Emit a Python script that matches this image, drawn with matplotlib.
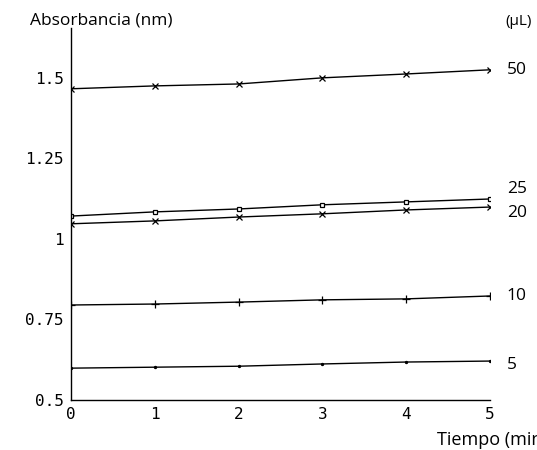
import matplotlib

matplotlib.use("Agg")
import matplotlib.pyplot as plt

tiempo = [0, 1, 2, 3, 4, 5]
volumes = ["50", "25", "20", "10", "5"]
abs_50 = [1.466, 1.475, 1.481, 1.500, 1.512, 1.525]
abs_25 = [1.071, 1.084, 1.093, 1.106, 1.115, 1.124]
abs_20 = [1.047, 1.056, 1.068, 1.078, 1.090, 1.099]
abs_10 = [0.795, 0.798, 0.804, 0.811, 0.814, 0.823]
abs_5 = [0.599, 0.602, 0.605, 0.612, 0.618, 0.621]
y_ticks = [0.5, 0.75, 1, 1.25, 1.5]
y_labels = ["0.5", "0.75", "1", "1.25", "1.5"]

series = [abs_50, abs_25, abs_20, abs_10, abs_5]
markers = ["x", "s", "x", "+", "."]
sizes = [5, 3, 5, 6, 3]
# vertical nudge of the end labels (points), so 25/20 don't collide
nudges = [0, 7, -4, 0, -3]

fig = plt.figure(figsize=(5.37, 4.5), dpi=100)
ax = fig.add_axes([0.132, 0.111, 0.7805, 0.827])

for vals, m, s, lab, dy in zip(series, markers, sizes, volumes, nudges):
    ax.plot(tiempo, vals, color="black", lw=1.0, marker=m, ms=s,
            mfc="white" if m == "s" else "black", mec="black", mew=0.9)
    ax.annotate(lab, xy=(5, vals[-1]), xytext=(12, dy), textcoords="offset points",
                va="center", ha="left", fontsize=12.5, family="Open Sans")

ax.set_xlim(0, 5)
ax.set_ylim(0.5, 1.655)
ax.set_xticks(tiempo)
ax.set_yticks(y_ticks)
ax.set_yticklabels(y_labels)
ax.tick_params(length=0, labelsize=11.5, pad=5)
for lbl in ax.get_xticklabels() + ax.get_yticklabels():
    lbl.set_family("DejaVu Sans Mono")
ax.spines["top"].set_visible(False)
ax.spines["right"].set_visible(False)
ax.spines["left"].set_linewidth(1.0)
ax.spines["bottom"].set_linewidth(1.0)

fig.text(0.056, 0.955, "Absorbancia (nm)", fontsize=12.5, ha="left", va="center",
         family="Open Sans")
fig.text(0.942, 0.952, "(µL)", fontsize=11, ha="left", va="center",
         family="Open Sans")
fig.text(0.814, 0.022, "Tiempo (min)", fontsize=13, ha="left", va="center",
         family="Open Sans")

fig.savefig("out.png", dpi=100)
